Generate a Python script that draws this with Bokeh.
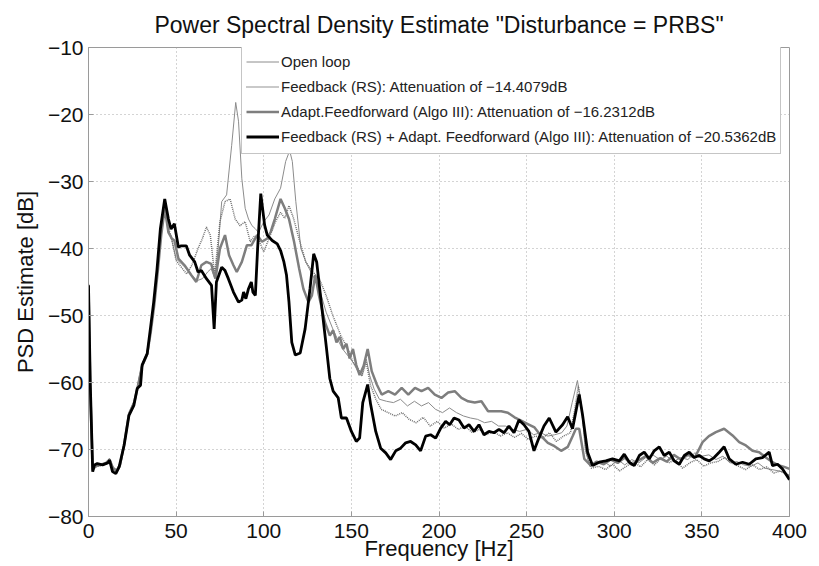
from bokeh.plotting import figure
from bokeh.models import Legend, LegendItem, FixedTicker
from bokeh.embed import file_html
from bokeh.resources import INLINE

# ---------------- data ----------------
x_ticks = [0, 50, 100, 150, 200, 250, 300, 350, 400]
y_ticks = [-80, -70, -60, -50, -40, -30, -20, -10]

open_f = [0, 1, 2.4, 4, 7, 10, 12, 14, 16, 18,
          20.5, 23, 26, 28, 30.5, 33.5, 35.5, 37.5, 39.5, 41.5,
          43.5, 45.6, 47.5, 50, 53, 56, 59, 62, 65, 68,
          70, 72, 74, 76, 78.8, 81.7, 84, 85.6, 87.5, 89.4,
          91.3, 93.3, 95, 97, 100, 103, 106.3, 109.6, 112.5, 114.8,
          116.3, 118.3, 121.2, 124, 127.9, 131.7, 135.6, 139.4, 142, 145,
          148, 151, 154, 156, 158.5, 160.5, 163, 166, 170, 174,
          178, 182, 186, 190, 194, 198, 202, 206, 210, 214,
          218, 222, 226, 230, 234, 238, 242, 246, 250, 254,
          258, 262, 266, 270, 273, 276, 279, 281, 283.5, 286,
          290, 294, 298, 302, 306, 310, 314, 318, 322, 326,
          330, 334, 338, 342, 346, 350, 354, 358, 362, 366,
          370, 374, 378, 382, 386, 390, 394, 397, 400]
open_db = [-45, -60, -72.8, -72.3, -72.1, -72, -71.3, -72.6, -73, -72,
           -68.8, -64.5, -62.8, -60.5, -57.2, -55.5, -52, -48, -43, -37.5,
           -33.5, -37.2, -38.8, -41.5, -42.3, -43, -44, -44.8, -44.5, -43.5,
           -43, -44.5, -40, -33, -32, -24.6, -18.2, -21, -29.6, -34,
           -35.6, -36.6, -37, -37.6, -36, -35, -32.6, -31, -27, -25.4,
           -27, -33, -40, -42, -44, -46, -49.5, -52, -53.5, -55,
           -56, -57, -58.5, -59, -56.5, -59, -61, -62.5, -62.8, -63,
           -62.5, -63.5, -62.8, -63.5, -63, -64, -64.5, -63.8, -64.5, -65,
           -65.3, -65.5, -66, -65.8, -66.5, -66.5, -67, -67.3, -67, -67.8,
           -67.5, -68, -67.8, -67.5, -66.5, -63, -59.7, -63, -70, -72.5,
           -72, -71.8, -72.5, -71.5, -72.3, -71.5, -72, -71.2, -70.8, -71.5,
           -71, -71.8, -71.2, -71.5, -70.5, -71, -70.8, -71.5, -71, -72,
           -71.8, -72.3, -72.5, -72, -72.8, -73, -73.2, -73.5, -73.8]

fb_f = [0, 1, 2.4, 4, 7, 10, 12, 14, 16, 18,
        20.5, 23, 26, 28, 30.5, 33.5, 35.5, 37.5, 39.5, 41.5,
        43.5, 45.6, 47.5, 50, 53, 56, 59, 62.5, 65, 67.3,
        69.5, 72, 75, 77.9, 80.8, 83.7, 86.5, 89.4, 92.3, 94.5,
        97, 100, 103, 106.7, 109.6, 112, 114.4, 117, 120.2, 124,
        127.9, 131.7, 135.6, 139.4, 144, 148, 151, 154, 156, 158.5,
        161, 164, 167, 171, 175, 179, 183, 187, 191, 195,
        199, 203, 207, 211, 215, 219, 223, 227, 231, 235,
        239, 243, 247, 251, 255, 259, 263, 267, 271, 275,
        277.5, 279.5, 281.5, 284, 287, 291, 295, 299, 303, 307,
        311, 315, 319, 323, 327, 331, 335, 339, 343, 347,
        351, 355, 359, 363, 367, 371, 375, 379, 383, 387,
        391, 395, 400]
fb_db = [-45.3, -60, -73, -72.6, -72.4, -72.2, -71.8, -73, -73.4, -72.5,
         -69.2, -64.7, -63.2, -60.6, -57.5, -55.6, -52.2, -48.2, -43.3, -37.5,
         -33.5, -37, -38.5, -41.8, -42.8, -43.8, -42.5, -40, -38.5, -36.8,
         -38, -44, -36, -33, -32.6, -35.6, -36.6, -36, -39, -38.2,
         -38.6, -40.5, -38.5, -36, -34.6, -35.5, -33.6, -35.5, -38.6, -42,
         -43.5, -44.5, -47, -50, -53, -55, -57, -58, -59, -57,
         -60.5, -62.5, -64, -64.5, -65, -64.5, -65.5, -66, -65.2, -66.5,
         -65.8, -66.8, -66.2, -67, -66.5, -67.5, -67, -67.8, -67.3, -68,
         -67.5, -68.2, -67.6, -68.5, -68, -68.3, -67.5, -68.8, -68, -67.5,
         -64, -60.5, -64, -70.5, -72.8, -72.5, -73, -72.2, -73.2, -72.5,
         -71.8, -72.6, -71.5, -72.3, -71.2, -72, -71.5, -72.8, -72, -71.5,
         -72.5, -72, -71.8, -71.2, -72, -72.5, -73, -72.3, -73, -72.6,
         -73.5, -73.2, -74]

ff_f = [0, 1, 2.4, 4, 7, 10, 12, 14, 16, 18,
        20.5, 23, 26, 28, 30.5, 33.5, 35.5, 37.5, 39.5, 41.5,
        43.5, 45.6, 47.5, 49, 51.3, 54.8, 58.7, 61.5, 64.4, 67.3,
        70, 72.5, 75, 77.9, 80.2, 82.7, 84.6, 87.5, 90.4, 93,
        96.2, 99, 102, 104, 106.3, 109.6, 112, 114.4, 117.3, 120.2,
        122.6, 125.5, 127.5, 129.4, 131.5, 134.9, 137.7, 139.6, 141.5, 143.4,
        145.3, 147.2, 149, 150.9, 152.8, 154.7, 157, 159.3, 161.6, 164.5,
        167.3, 171.1, 174.9, 178.7, 182.5, 186.3, 190, 193.8, 197.6, 201.4,
        205.2, 209, 212.8, 216.6, 220.4, 224.2, 228, 231.8, 235.5, 239.3,
        243.1, 246.9, 250.7, 254.5, 258.3, 262.1, 265.9, 269.7, 273.5, 276.3,
        278.1, 280, 282.9, 286.7, 290, 294, 298, 302, 306, 310,
        314, 318, 322, 326, 330, 334, 338, 342, 346, 350.4,
        354, 358, 362.7, 367.5, 371.3, 375.1, 378.9, 382.7, 386.5, 390.3,
        394.1, 397, 400]
ff_db = [-45.5, -61, -73, -72.5, -72.3, -72, -71.5, -72.8, -73.2, -72.3,
         -69, -64.8, -63, -60.8, -57.6, -55.8, -52.5, -48.5, -43.5, -38,
         -34, -37.6, -38.5, -38.8, -41.5, -42.5, -44, -45, -42.5, -42,
         -42.3, -44.5, -40, -38, -41, -42.5, -43.5, -42, -39.5, -39.5,
         -38, -39, -38.5, -37.5, -35.6, -32.6, -34, -35.6, -39, -43,
         -46, -48, -47, -44, -47, -51, -53, -52.2, -54, -53.2,
         -55, -54.2, -56.4, -55, -57.4, -58.9, -57.5, -55, -58.3, -60.3,
         -61.8, -61.3, -61.8, -60.8, -61.8, -60.8, -61.3, -60.8, -61.8, -62.3,
         -61.5, -61.3, -62.3, -62.8, -63, -62.8, -64.3, -64.3, -64.3, -64.5,
         -65.2, -65.7, -66.2, -66.7, -68, -69, -69.5, -70.2, -69.6, -68,
         -66.9, -66.9, -71.4, -72.4, -71.8, -72.2, -71.5, -72, -71.2, -72.3,
         -71.6, -71, -72, -71.3, -71.8, -70.8, -71.5, -70.8, -71.2, -68.9,
         -68, -67.4, -66.9, -67.9, -68.9, -69.4, -70.2, -70.4, -71.2, -71.9,
         -72.4, -72.6, -72.9]

fbff_f = [0, 1, 2.4, 3.4, 5, 8, 11, 12, 13.7, 15.6,
          17.5, 20.3, 23.1, 25.9, 27.8, 29.7, 30.6, 33.5, 35.3, 37.2,
          39.1, 41, 43.5, 45.6, 47.1, 49, 51.3, 52.9, 55.8, 57.7,
          60.6, 62.5, 64.4, 67.3, 70.2, 71.7, 73, 76, 77.9, 79.8,
          82.7, 85.6, 87.5, 88.5, 89.8, 91.3, 92.9, 93.8, 95.2, 96.5,
          98.3, 100.5, 102, 104.8, 107.7, 109.6, 111.5, 113, 114.4, 116,
          118, 120.8, 123.6, 126.4, 128.5, 130.2, 133, 135.8, 137.7, 139.6,
          142.5, 144.3, 147.2, 150, 152.8, 154.7, 156.5, 159.3, 161, 163.9,
          166.7, 169.6, 172.4, 175.3, 178.1, 181, 183.8, 186.7, 189.5, 192.4,
          195.2, 198.1, 201, 203.8, 206.1, 208.6, 211.4, 214.3, 217.1, 220,
          222.8, 225.7, 228.5, 231.4, 234.2, 237.1, 239.9, 242.8, 245.6, 248.5,
          251.3, 254.2, 257, 259.9, 262.9, 266.7, 270.5, 273.4, 276.2, 280,
          281.9, 284.8, 287.6, 291.4, 295.2, 299, 302.9, 305.7, 308.6, 311.4,
          314.3, 317.1, 320, 322.8, 325.7, 328.5, 331.4, 334.2, 337.1, 340,
          342.8, 345.6, 348.5, 351.3, 354.2, 357, 359.9, 362.7, 365.6, 369.4,
          373.2, 377, 380.8, 384.6, 388.4, 390.3, 393.2, 396, 400]
fbff_db = [-45.5, -60, -73.3, -72.3, -72.1, -72.3, -72, -71.6, -73.3, -73.6,
           -72.6, -69.4, -64.9, -63.4, -60.9, -60.4, -57.4, -55.7, -52, -48,
           -43.1, -37.1, -32.6, -35.6, -37.1, -36.3, -39.8, -39.6, -39.6, -41,
           -42, -43.5, -43.3, -44.5, -45.5, -52, -45, -42.8, -43.3, -44.5,
           -46.5, -48, -47.7, -46.5, -47.5, -46, -45, -46.5, -47, -40,
           -31.8, -36.5, -38, -38.8, -39.3, -40.3, -42, -44, -48, -54,
           -55.9, -55.6, -52, -46, -40.8, -42, -48.5, -54.9, -59.4, -61.3,
           -62.3, -65.3, -65.3, -67.3, -68.8, -68.3, -63, -60.3, -63.3, -67.3,
           -69.8, -70.5, -71.5, -70.2, -69.8, -69, -68.8, -69.3, -70.2, -68,
           -67.8, -68.3, -66.8, -65.8, -66.3, -65.3, -65.6, -66.8, -66.3, -67.3,
           -66.3, -67.8, -67.3, -67.5, -67, -67.5, -66.5, -67.5, -65.6, -66.3,
           -67.3, -70.2, -68.3, -66.5, -65.3, -67.4, -66.3, -65.1, -66.9, -61.8,
           -64.8, -70.4, -72.4, -71.9, -71.7, -71.4, -71.7, -70.7, -71.9, -72.4,
           -70.9, -70.4, -71.4, -70.2, -69.6, -70.9, -70.4, -71.7, -72.2, -70.9,
           -70.4, -71.2, -70.9, -71.4, -71.7, -71.2, -70.4, -69.6, -71.4, -72.2,
           -71.9, -72.2, -71.4, -71.2, -70.4, -72.4, -72.2, -72.9, -74.5]

labels = ["Open loop",
          "Feedback (RS): Attenuation of \u221214.4079dB",
          "Adapt.Feedforward (Algo III): Attenuation of \u221216.2312dB",
          "Feedback (RS) + Adapt. Feedforward (Algo III): Attenuation of \u221220.5362dB"]

FONT = "Liberation Sans"

p = figure(width=819, height=566, x_range=(0, 400), y_range=(-80, -10),
           output_backend="svg", toolbar_location=None,
           min_border_left=88, min_border_right=30, min_border_top=45,
           min_border_bottom=50, background_fill_color="white",
           border_fill_color="white")

p.title.text = 'Power Spectral Density Estimate "Disturbance = PRBS"'
p.title.align = "center"
p.title.text_font = FONT
p.title.text_font_size = "23px"
p.title.text_font_style = "normal"
p.title.text_color = "#111111"
p.title.standoff = 19

for ax, t in ((p.xaxis, x_ticks), (p.yaxis, y_ticks)):
    ax.ticker = FixedTicker(ticks=t)
    ax.major_tick_in = 5
    ax.major_tick_out = 0
    ax.minor_tick_line_color = None
    ax.axis_line_color = "#9a9a9a"
    ax.major_tick_line_color = "#9a9a9a"
    ax.major_label_text_font = FONT
    ax.major_label_text_font_size = "21px"
    ax.major_label_text_color = "#111111"
    ax.axis_label_text_font = FONT
    ax.axis_label_text_font_size = "22px"
    ax.axis_label_text_font_style = "normal"
    ax.axis_label_text_color = "#111111"

p.xaxis.major_label_standoff = 7
p.yaxis.major_label_standoff = 5
p.xaxis.axis_label = "Frequency [Hz]"
p.yaxis.axis_label = "PSD Estimate [dB]"
p.xaxis.axis_label_standoff = -5
p.yaxis.axis_label_standoff = 7

p.grid.grid_line_color = "#a8a8a8"
p.grid.grid_line_dash = "1 3"
p.grid.grid_line_width = 1
p.outline_line_color = "#9a9a9a"
p.outline_line_width = 1

r_open = p.line(open_f, open_db, line_color="#8c8c8c", line_width=1)
r_fb = p.line(fb_f, fb_db, line_color="#707070", line_width=1.5, line_dash="1 1")
r_ff = p.line(ff_f, ff_db, line_color="#7e7e7e", line_width=2.5)
r_fbff = p.line(fbff_f, fbff_db, line_color="#000000", line_width=2.8)

legend = Legend(items=[LegendItem(label=labels[0], renderers=[r_open]),
                       LegendItem(label=labels[1], renderers=[r_fb]),
                       LegendItem(label=labels[2], renderers=[r_ff]),
                       LegendItem(label=labels[3], renderers=[r_fbff])],
                location=(153, 362))
legend.label_text_font = FONT
legend.label_text_font_size = "15px"
legend.label_text_color = "#222222"
legend.glyph_width = 33
legend.glyph_height = 25
legend.label_height = 25
legend.label_standoff = 2
legend.spacing = 0
legend.padding = 4
legend.margin = 0
legend.border_line_color = "#8c8c8c"
legend.border_line_width = 1
legend.background_fill_color = "white"
legend.background_fill_alpha = 1
p.add_layout(legend)

open("out.html", "w").write(file_html(p, INLINE))
